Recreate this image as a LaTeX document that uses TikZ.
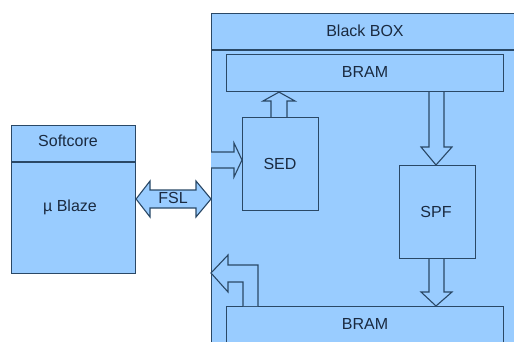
\documentclass[tikz,border=0pt]{standalone}
\usepackage{fontspec}
\setmainfont{Liberation Sans}
\usetikzlibrary{calc}
\definecolor{boxfill}{HTML}{99CCFF}
\definecolor{boxline}{HTML}{2A4866}
\definecolor{txt}{HTML}{1A2A40}
\begin{document}
\begin{tikzpicture}[x=1pt,y=-1pt,
  blk/.style={draw=boxline,fill=boxfill,line width=1.1pt,rectangle,inner sep=0pt,anchor=north west},
  barrow/.style={draw=boxline,fill=boxfill,line width=1.1pt,line join=miter},
  lbl/.style={text=txt,font=\fontsize{16}{19}\selectfont,inner sep=0pt}]
\useasboundingbox (0,0) rectangle (514,342);
\clip (0,0) rectangle (514,342);
% boxes
\node[blk,minimum width=124pt,minimum height=148pt] (soft) at (11,125) {};
\draw[boxline,line width=1.1pt] (11,162) -- (135,162);
\node[blk,minimum width=330pt,minimum height=360pt] (bb) at (211,13) {};
\draw[boxline,line width=1.1pt] (211,50) -- (530,50);
\node[blk,minimum width=277pt,minimum height=37pt] (bramA) at (226,54) {};
\node[blk,minimum width=76pt,minimum height=93pt] (sed) at (242,117) {};
\node[blk,minimum width=76pt,minimum height=93pt] (spf) at (399,165) {};
\node[blk,minimum width=277pt,minimum height=60pt] (bramB) at (226,306) {};
% labels
\node[lbl] (tbb) at (365,31) {Black BOX};
\node[lbl] (tbramA) at (365,72) {BRAM};
\node[lbl] (tsed) at (280,164) {SED};
\node[lbl] (tspf) at (436,212) {SPF};
\node[lbl] (tbramB) at (365,324) {BRAM};
\node[lbl] (tsoft) at (68,141) {Softcore};
\node[lbl] (tmb) at (70,207) {µ Blaze};
% FSL double arrow between softcore and black box
\draw[barrow] (soft.east |- 0,199) -- (150,181) -- (150,190) -- (196,190) -- (196,181)
  -- (bb.west |- 0,199) -- (196,217) -- (196,208) -- (150,208) -- (150,217) -- cycle;
\node[lbl] (tfsl) at (173,198) {FSL};
% arrow into SED
\draw[barrow] (bb.west |- 0,152) -- (234,152) -- (234,143) -- (sed.west |- 0,160)
  -- (234,177) -- (234,168) -- (bb.west |- 0,168);
% SED up to BRAM
\draw[barrow] (271,0 |- sed.north) -- (271,101) -- (263,101) -- (279,0 |- bramA.south)
  -- (295,101) -- (287,101) -- (287,0 |- sed.north);
% BRAM down to SPF
\draw[barrow] (429,0 |- bramA.south) -- (429,147) -- (421,147) -- (436,0 |- spf.north)
  -- (452,147) -- (444,147) -- (444,0 |- bramA.south);
% SPF down to BRAM
\draw[barrow] (429,0 |- spf.south) -- (429,292) -- (421,292) -- (436,0 |- bramB.north)
  -- (452,292) -- (444,292) -- (444,0 |- spf.south);
% L arrow from lower BRAM to black box edge
\draw[barrow] (258,0 |- bramB.north) -- (258,265) -- (228,265) -- (228,255)
  -- (bb.west |- 0,273) -- (228,292) -- (228,282) -- (243,282) -- (243,0 |- bramB.north);
\end{tikzpicture}
\end{document}
